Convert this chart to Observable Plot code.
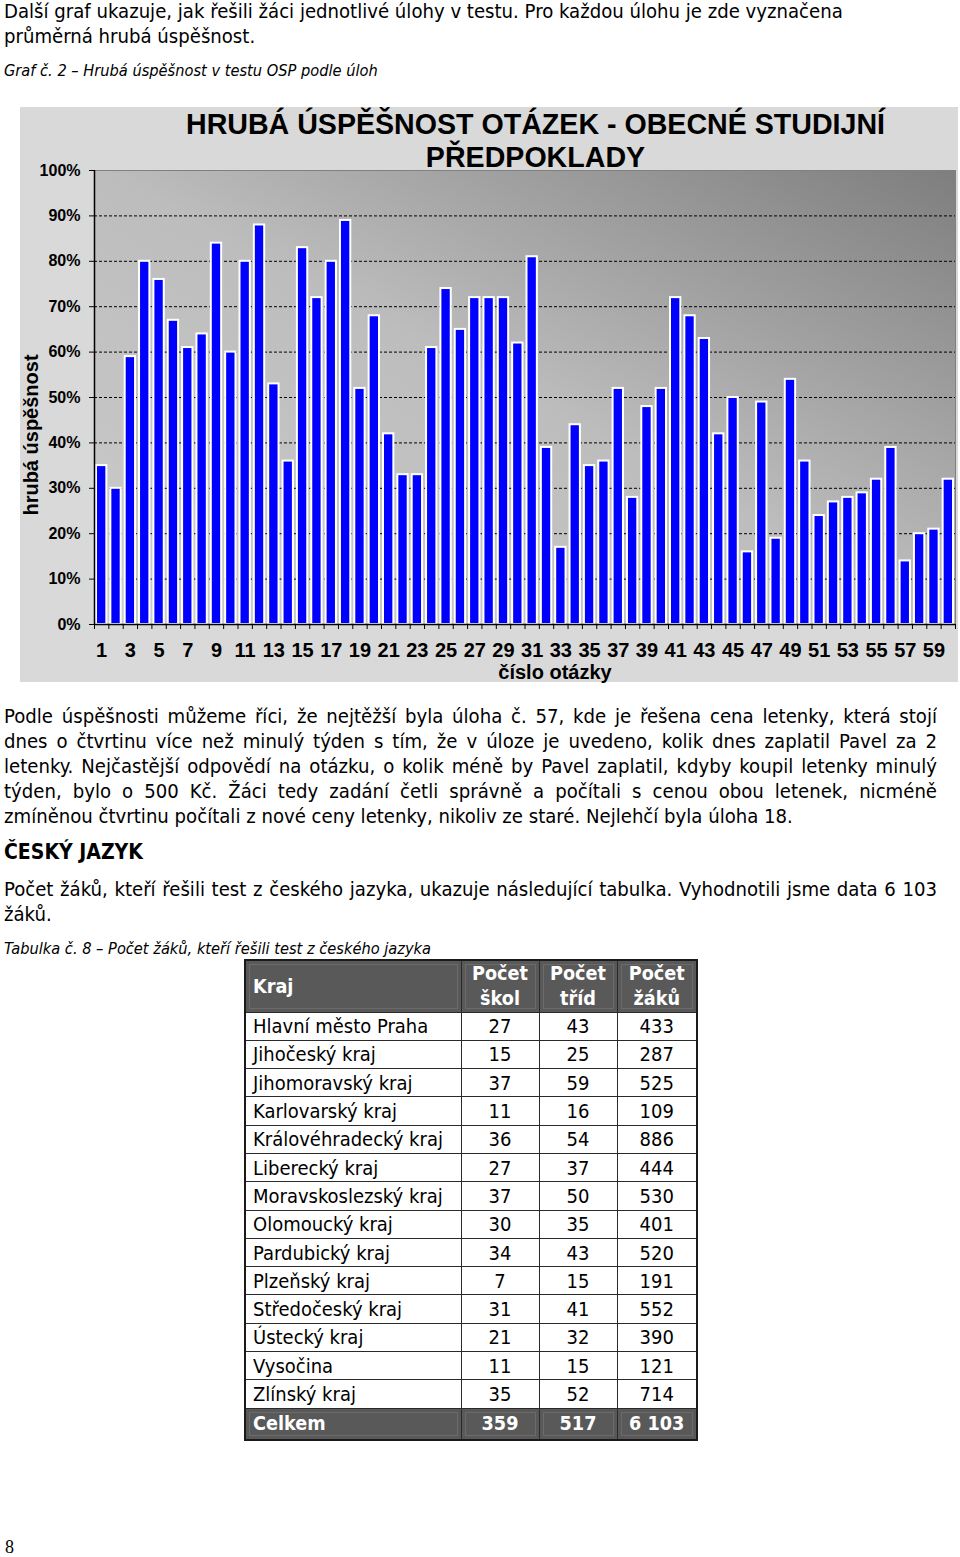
<!DOCTYPE html>
<html>
<head>
<meta charset="utf-8">
<script src="https://cdn.jsdelivr.net/npm/d3@7"></script>
<script src="https://cdn.jsdelivr.net/npm/@observablehq/plot@0.6"></script>
<style>
  html, body { margin: 0; padding: 0; background: #fff; }
  body { width: 960px; height: 1557px; position: relative; overflow: hidden; color: #000;
         font-family: "DejaVu Sans Condensed", "DejaVu Sans", sans-serif; }
  .ln { position: absolute; left: 4px; height: 25px; line-height: 25px; white-space: nowrap; }
  .jl { width: 933px; text-align: justify; text-align-last: justify; white-space: normal; overflow: hidden; }
  .cap { font-style: italic; }
  #box { position: absolute; left: 20px; top: 107px; width: 938px; height: 575px; background: #d9d9d9; }
  #box svg { position: absolute; left: 0; top: 0; font-family: "Liberation Sans", Arial, sans-serif; }
  #box svg text { font-family: "Liberation Sans", Arial, sans-serif; }
  .ctitle { position: absolute; left: 515.5px; top: 0; transform: translateX(-50%); text-align: center;
            font: bold 28.6px "Liberation Sans", Arial, sans-serif; line-height: 33px; white-space: nowrap; }
  .ylab { position: absolute; font: bold 20px "Liberation Sans", Arial, sans-serif; white-space: nowrap;
          transform: translate(-50%, -50%) rotate(-90deg); }
  .xlab { position: absolute; font: bold 20px "Liberation Sans", Arial, sans-serif; white-space: nowrap;
          transform: translate(-50%, -50%); }
  table { position: absolute; left: 244px; top: 959px; width: 452px; border-collapse: collapse;
          border: 2px solid #1a1a1a; table-layout: fixed; }
  td, th { border: 1px solid #2a2a2a; padding: 0; }
  thead th, tfoot td { background: #595959; color: #fff; font-weight: bold;
          box-shadow: inset 0 0 0 3px #595959, inset 0 0 0 4px #6b6b6b; }
  thead tr { height: 52px; }
  thead th { line-height: 25px; text-align: center; }
  thead th.k { text-align: left; padding-left: 7px; }
  tbody tr { height: 28.3px; }
  tbody td { line-height: 26px; text-align: center; }
  tbody td.k { text-align: left; padding-left: 7px; }
  tfoot tr { height: 32px; }
  tfoot td { text-align: center; }
  tfoot td.k { text-align: left; padding-left: 7px; }
  #pg { position: absolute; left: 5px; top: 1537px; font: 18px "Liberation Serif", serif; }
</style>
</head>
<body>
<script>
// ---------- text content ----------
const para1 = [
  "Další graf ukazuje, jak řešili žáci jednotlivé úlohy v testu. Pro každou úlohu je zde vyznačena",
  "průměrná hrubá úspěšnost."
];
const caption1 = "Graf č. 2 – Hrubá úspěšnost v testu OSP podle úloh";
const chartTitle = ["HRUBÁ ÚSPĚŠNOST OTÁZEK - OBECNÉ STUDIJNÍ", "PŘEDPOKLADY"];
const yLabel = "hrubá úspěšnost";
const xLabel = "číslo otázky";
const para2 = [
  "Podle úspěšnosti můžeme říci, že nejtěžší byla úloha č. 57, kde je řešena cena letenky, která stojí",
  "dnes o čtvrtinu více než minulý týden s\u00a0tím, že v úloze je uvedeno, kolik dnes zaplatil Pavel za 2",
  "letenky. Nejčastější odpovědí na otázku, o kolik méně by Pavel zaplatil, kdyby koupil letenky minulý",
  "týden, bylo o 500 Kč. Žáci tedy zadání četli správně a počítali s\u00a0cenou obou letenek, nicméně",
  "zmíněnou čtvrtinu počítali z nové ceny letenky, nikoliv ze staré. Nejlehčí byla úloha 18."
];
const heading = "ČESKÝ JAZYK";
const para3 = [
  "Počet žáků, kteří řešili test z českého jazyka, ukazuje následující tabulka. Vyhodnotili jsme data 6 103",
  "žáků."
];
const caption2 = "Tabulka č. 8 – Počet žáků, kteří řešili test z českého jazyka";
const pageNumber = "8";

// ---------- chart data ----------
const questions = [1,2,3,4,5,6,7,8,9,10,11,12,13,14,15,16,17,18,19,20,
                   21,22,23,24,25,26,27,28,29,30,31,32,33,34,35,36,37,38,39,40,
                   41,42,43,44,45,46,47,48,49,50,51,52,53,54,55,56,57,58,59,60];
const success = [35,30,59,80,76,67,61,64,84,60,
                 80,88,53,36,83,72,80,89,52,68,
                 42,33,33,61,74,65,72,72,72,62,
                 81,39,17,44,35,36,52,28,48,52,
                 72,68,63,42,50,16,49,19,54,36,
                 24,27,28,29,32,39,14,20,21,32];
const xTickLabels = [1,3,5,7,9,11,13,15,17,19,21,23,25,27,29,31,33,35,37,39,41,43,45,47,49,51,53,55,57,59];
const yTicks = [0,10,20,30,40,50,60,70,80,90,100];
const gridLevels = [10,20,30,40,50,60,70,80,90];

// ---------- table data ----------
const tableHeader = ["Kraj", "Počet<br>škol", "Počet<br>tříd", "Počet<br>žáků"];
const regions = ["Hlavní město Praha","Jihočeský kraj","Jihomoravský kraj","Karlovarský kraj",
  "Královéhradecký kraj","Liberecký kraj","Moravskoslezský kraj","Olomoucký kraj","Pardubický kraj",
  "Plzeňský kraj","Středočeský kraj","Ústecký kraj","Vysočina","Zlínský kraj"];
const schools = [27,15,37,11,36,27,37,30,34,7,31,21,11,35];
const classes = [43,25,59,16,54,37,50,35,43,15,41,32,15,52];
const pupils  = [433,287,525,109,886,444,530,401,520,191,552,390,121,714];
const totals  = ["Celkem", "359", "517", "6 103"];

// ---------- font fitting helper ----------
const FAM = '"DejaVu Sans Condensed", "DejaVu Sans", sans-serif';
const ctx = document.createElement("canvas").getContext("2d");
function fit(text, style, target) {
  ctx.font = `${style} 100px ${FAM}`;
  return 100 * target / ctx.measureText(text).width;
}
const fsBody = fit(para1[0], "normal", 839);
const fsCap = fit(caption1, "italic", 374);
const fsHead = fit(heading, "bold", 139);
const fsTable = fit("Královéhradecký kraj", "normal", 190);
const fsTh = fit("Počet", "bold", 56);

const root = document.body;
function addLine(text, top, cls, fs, extra) {
  const d = document.createElement("div");
  d.className = "ln " + (cls || "");
  d.style.top = top + "px";
  d.style.fontSize = fs + "px";
  if (extra) Object.assign(d.style, extra);
  d.textContent = text;
  root.appendChild(d);
  return d;
}
addLine(para1[0], 11 - 12.5, "", fsBody);
addLine(para1[1], 36 - 12.5, "", fsBody);
addLine(caption1, 70 - 12.5, "cap", fsCap);
para2.forEach((t, i) => addLine(t, 716 + 25 * i - 12.5, i < para2.length - 1 ? "jl" : "", fsBody));
addLine(heading, 852 - 12.5, "", fsHead, {fontWeight: "bold"});
para3.forEach((t, i) => addLine(t, 889 + 25 * i - 12.5, i < para3.length - 1 ? "jl" : "", fsBody));
addLine(caption2, 948 - 12.5, "cap", fsCap);

// ---------- chart ----------
const box = document.createElement("div");
box.id = "box";
root.appendChild(box);

const data = questions.map((q, i) => ({q, v: success[i]}));
const boundaries = questions.map(q => q - 0.5).concat([questions[questions.length - 1] + 0.5]);
const AX = '"Liberation Sans", Arial, sans-serif';

const chart = Plot.plot({
  width: 938,
  height: 575,
  marginLeft: 74,
  marginRight: 3,
  marginTop: 63,
  marginBottom: 58,
  style: {background: "transparent", fontFamily: AX, color: "#000", overflow: "visible"},
  x: {type: "linear", domain: [0.5, 60.5]},
  y: {domain: [0, 100]},
  marks: [
    Plot.frame({fill: "url(#plotGrad)", stroke: "#808080", strokeWidth: 1}),
    Plot.ruleY(gridLevels, {stroke: "#000", strokeWidth: 1, strokeDasharray: "3,2"}),
    Plot.rectY(data, {x1: d => d.q - 0.5, x2: d => d.q + 0.5, y: "v", fill: "#0000ff",
                      stroke: "#ffffff", strokeWidth: 2, insetLeft: 2, insetRight: 2}),
    Plot.ruleY([0], {stroke: "#000", strokeWidth: 1.5}),
    Plot.ruleX([0.5], {stroke: "#000", strokeWidth: 1.5}),
    Plot.axisY({ticks: yTicks, tickFormat: d => d + "%", tickSize: 5, tickPadding: 9,
                fontSize: 16, fontWeight: "bold", fontFamily: AX, label: null, stroke: "#000"}),
    Plot.axisX({ticks: boundaries, tickFormat: () => "", tickSize: 5, label: null}),
    Plot.axisX({ticks: xTickLabels, tickFormat: d => String(d), tickSize: 0, tickPadding: 18,
                fontSize: 20, fontWeight: "bold", fontFamily: AX, label: null})
  ]
});

const defs = d3.select(chart).insert("defs", ":first-child");
const grad = defs.append("linearGradient").attr("id", "plotGrad")
  .attr("x1", 0).attr("y1", 1).attr("x2", 1).attr("y2", 0);
grad.append("stop").attr("offset", 0).attr("stop-color", "#cbcbcb");
grad.append("stop").attr("offset", 0.5).attr("stop-color", "#bdbdbd");
grad.append("stop").attr("offset", 1).attr("stop-color", "#7e7e7e");
box.appendChild(chart);

const title = document.createElement("div");
title.className = "ctitle";
title.style.top = (124 - 107 - 16.5) + "px";
title.innerHTML = chartTitle.join("<br>");
box.appendChild(title);

const yl = document.createElement("div");
yl.className = "ylab";
yl.style.left = (31 - 20) + "px";
yl.style.top = (435 - 107) + "px";
yl.textContent = yLabel;
box.appendChild(yl);

const xl = document.createElement("div");
xl.className = "xlab";
xl.style.left = (555 - 20) + "px";
xl.style.top = (672 - 107) + "px";
xl.textContent = xLabel;
box.appendChild(xl);

// ---------- table ----------
const tbl = document.createElement("table");
tbl.style.fontSize = fsTable + "px";
const colW = [216, 78, 78, 80];
let html = "<colgroup>" + colW.map(w => `<col style="width:${w}px">`).join("") + "</colgroup>";
html += "<thead><tr>" + tableHeader.map((h, i) =>
  `<th class="${i === 0 ? "k" : ""}" style="font-size:${fsTh}px">${h}</th>`).join("") + "</tr></thead>";
html += "<tbody>" + regions.map((r, i) =>
  `<tr><td class="k">${r}</td><td>${schools[i]}</td><td>${classes[i]}</td><td>${pupils[i]}</td></tr>`).join("") + "</tbody>";
html += "<tfoot><tr>" + totals.map((t, i) =>
  `<td class="${i === 0 ? "k" : ""}" style="font-size:${fsTh}px">${t}</td>`).join("") + "</tr></tfoot>";
tbl.innerHTML = html;
root.appendChild(tbl);

const pg = document.createElement("div");
pg.id = "pg";
pg.textContent = pageNumber;
root.appendChild(pg);
</script>
</body>
</html>
